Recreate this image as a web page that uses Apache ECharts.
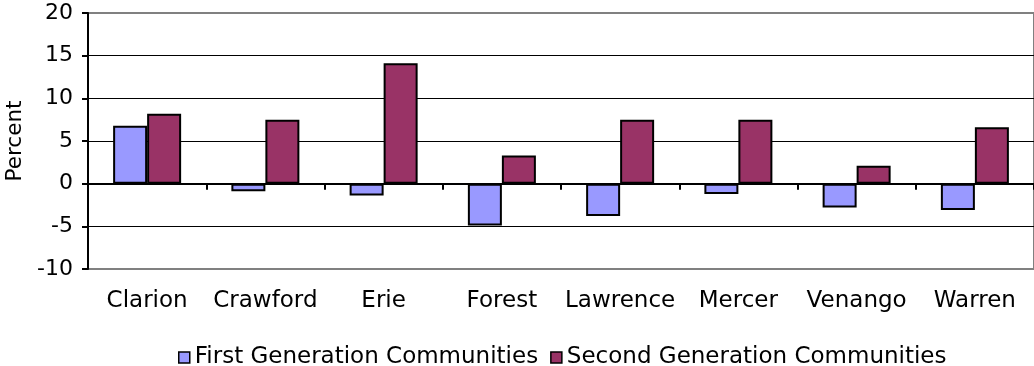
<!DOCTYPE html>
<html>
<head>
<meta charset="utf-8">
<script src="https://cdn.jsdelivr.net/npm/echarts@6/dist/echarts.min.js"></script>
<style>
  html, body { margin: 0; padding: 0; background: #fff; }
  #chart { width: 1034px; height: 366px; }
</style>
</head>
<body>
<div id="chart"></div>
<script>
// Population change by county, percent
const counties = ['Clarion', 'Crawford', 'Erie', 'Forest', 'Lawrence', 'Mercer', 'Venango', 'Warren'];
const firstGeneration = [6.8, -0.9, -1.4, -4.9, -3.8, -1.2, -2.8, -3.1];
const secondGeneration = [8.2, 7.5, 14.1, 3.3, 7.5, 7.5, 2.1, 6.6];
const seriesNames = ['First Generation Communities', 'Second Generation Communities'];

const FONT = 'DejaVu Sans';
const chart = echarts.init(document.getElementById('chart'), null, { renderer: 'canvas' });

chart.setOption({
  animation: false,
  textStyle: { fontFamily: FONT, color: '#000' },
  grid: {
    left: 88, right: 0, top: 13, bottom: 97,
    containLabel: false,
    outerBoundsMode: 'none',
    show: true, borderColor: '#808080', borderWidth: 2, backgroundColor: 'transparent'
  },
  legend: {
    top: 346,
    left: 178,
    padding: 0,
    itemWidth: 11,
    itemHeight: 11,
    itemGap: 12,
    icon: 'rect',
    textStyle: { fontFamily: FONT, fontSize: 23, color: '#000' },
    data: seriesNames.map(n => ({ name: n, itemStyle: { borderColor: '#000', borderWidth: 1.5 } }))
  },
  xAxis: [
    {
      type: 'category',
      data: counties,
      position: 'bottom',
      axisLine: { show: false, onZero: false },
      axisTick: { show: false },
      axisLabel: { fontFamily: FONT, fontSize: 23, color: '#000', margin: 21, interval: 0 }
    },
    {
      type: 'category',
      data: counties,
      position: 'bottom',
      axisLine: { show: true, onZero: true, lineStyle: { color: '#000', width: 2 } },
      axisTick: { show: true, length: 6, inside: false, interval: 0, lineStyle: { color: '#000', width: 2 } },
      axisLabel: { show: false }
    }
  ],
  yAxis: {
    type: 'value',
    min: -10,
    max: 20,
    interval: 5,
    name: 'Percent',
    nameLocation: 'middle',
    nameGap: 62,
    nameRotate: 90,
    nameTextStyle: { fontFamily: FONT, fontSize: 21.5, color: '#000' },
    axisLine: { show: true, lineStyle: { color: '#000', width: 2 } },
    axisTick: { show: true, length: 6, lineStyle: { color: '#000', width: 2 } },
    axisLabel: { fontFamily: FONT, fontSize: 22, color: '#000', margin: 15 },
    splitLine: {
      show: true,
      lineStyle: { color: ['#808080', '#000', '#000', '#000', '#000', '#000', '#808080'], width: 1 }
    }
  },
  series: [
    {
      name: seriesNames[0],
      type: 'bar',
      xAxisIndex: 0,
      data: firstGeneration,
      barWidth: 34,
      barGap: '0%',
      itemStyle: { color: '#9999FF', borderColor: '#000', borderWidth: 2 }
    },
    {
      name: seriesNames[1],
      type: 'bar',
      xAxisIndex: 0,
      data: secondGeneration,
      barWidth: 34,
      barGap: '0%',
      itemStyle: { color: '#993366', borderColor: '#000', borderWidth: 2 }
    }
  ]
});
</script>
</body>
</html>
